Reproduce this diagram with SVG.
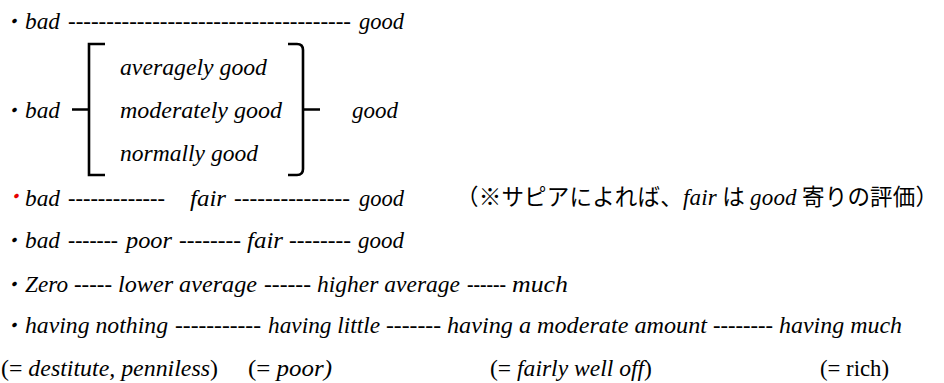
<svg xmlns="http://www.w3.org/2000/svg" width="944" height="383" viewBox="0 0 944 383">
<style>
.t{font-family:'Liberation Serif','Times New Roman',serif;font-size:23px;fill:#000}
.i{font-style:italic}
.j{font-family:'Noto Sans CJK JP','Noto Sans CJK SC',sans-serif;font-size:22.5px;fill:#000}
.d{font-family:'Noto Sans CJK JP',sans-serif;font-size:21px;fill:#000}
.br{fill:none;stroke:#000;stroke-width:2.6}
</style>
<rect width="944" height="383" fill="#fff"/>
<g id="line1" class="t i">
<text x="2" y="29" class="d">・</text>
<text x="25" y="29" textLength="35" lengthAdjust="spacingAndGlyphs">bad</text>
<text x="68" y="29" textLength="283" lengthAdjust="spacingAndGlyphs">-------------------------------------</text>
<text x="359" y="29" textLength="45" lengthAdjust="spacingAndGlyphs">good</text>
</g>
<g id="line2" class="t i">
<text x="2" y="118" class="d">・</text>
<text x="25" y="118" textLength="35" lengthAdjust="spacingAndGlyphs">bad</text>
<text x="352" y="118" textLength="46" lengthAdjust="spacingAndGlyphs">good</text>
</g>
<g id="options" class="t i">
<text x="120" y="75" textLength="147" lengthAdjust="spacingAndGlyphs">averagely good</text>
<text x="120" y="118" textLength="162" lengthAdjust="spacingAndGlyphs">moderately good</text>
<text x="120" y="161" textLength="138" lengthAdjust="spacingAndGlyphs">normally good</text>
</g>
<g id="connectors">
<path class="br" d="M105,44 H89 V175 H105 M72,109.5 H89"/>
<path class="br" d="M288,44 H297 Q303,44 303,50 V169 Q303,175 297,175 H288 M303,109.5 H320"/>
</g>
<g id="line3" class="t i">
<text x="4" y="204" class="d" style="fill:#e60000">・</text>
<text x="25" y="206" textLength="35" lengthAdjust="spacingAndGlyphs">bad</text>
<text x="68" y="206" textLength="97" lengthAdjust="spacingAndGlyphs">-------------</text>
<text x="190" y="206" textLength="36" lengthAdjust="spacingAndGlyphs">fair</text>
<text x="234" y="206" textLength="116" lengthAdjust="spacingAndGlyphs">---------------</text>
<text x="359" y="206" textLength="45" lengthAdjust="spacingAndGlyphs">good</text>
</g>
<g id="note">
<text x="456" y="205" class="j" textLength="482" lengthAdjust="spacing">（※サピアによれば、<tspan class="t i">fair</tspan> は <tspan class="t i">good</tspan> 寄りの評価）</text>
</g>
<g id="line4" class="t i">
<text x="2" y="248" class="d">・</text>
<text x="25" y="248" textLength="35" lengthAdjust="spacingAndGlyphs">bad</text>
<text x="68" y="248" textLength="50" lengthAdjust="spacingAndGlyphs">-------</text>
<text x="126" y="248" textLength="46" lengthAdjust="spacingAndGlyphs">poor</text>
<text x="179" y="248" textLength="62" lengthAdjust="spacingAndGlyphs">--------</text>
<text x="247" y="248" textLength="36" lengthAdjust="spacingAndGlyphs">fair</text>
<text x="289" y="248" textLength="62" lengthAdjust="spacingAndGlyphs">--------</text>
<text x="358" y="248" textLength="46" lengthAdjust="spacingAndGlyphs">good</text>
</g>
<g id="line5" class="t i">
<text x="2" y="292" class="d">・</text>
<text x="25" y="292" textLength="43" lengthAdjust="spacingAndGlyphs">Zero</text>
<text x="74" y="292" textLength="38" lengthAdjust="spacingAndGlyphs">-----</text>
<text x="118" y="292" textLength="139" lengthAdjust="spacingAndGlyphs">lower average</text>
<text x="264" y="292" textLength="47" lengthAdjust="spacingAndGlyphs">------</text>
<text x="317" y="292" textLength="143" lengthAdjust="spacingAndGlyphs">higher average</text>
<text x="467" y="292" textLength="39" lengthAdjust="spacingAndGlyphs">------</text>
<text x="512" y="292" textLength="56" lengthAdjust="spacingAndGlyphs">much</text>
</g>
<g id="line6" class="t i">
<text x="2" y="333" class="d">・</text>
<text x="25" y="333" textLength="143" lengthAdjust="spacingAndGlyphs">having nothing</text>
<text x="175" y="333" textLength="86" lengthAdjust="spacingAndGlyphs">-----------</text>
<text x="268" y="333" textLength="112" lengthAdjust="spacingAndGlyphs">having little</text>
<text x="386" y="333" textLength="55" lengthAdjust="spacingAndGlyphs">-------</text>
<text x="447" y="333" textLength="260" lengthAdjust="spacingAndGlyphs">having a moderate amount</text>
<text x="713" y="333" textLength="60" lengthAdjust="spacingAndGlyphs">--------</text>
<text x="779" y="333" textLength="123" lengthAdjust="spacingAndGlyphs">having much</text>
</g>
<g id="line7" class="t">
<text x="1" y="376" textLength="217" lengthAdjust="spacingAndGlyphs">(= <tspan class="i">destitute, penniless</tspan>)</text>
<text x="248" y="376" textLength="84" lengthAdjust="spacingAndGlyphs">(= <tspan class="i">poor)</tspan></text>
<text x="490" y="376" textLength="162" lengthAdjust="spacingAndGlyphs">(= <tspan class="i">fairly well off</tspan>)</text>
<text x="820" y="376" textLength="69" lengthAdjust="spacingAndGlyphs">(= rich)</text>
</g>
</svg>
